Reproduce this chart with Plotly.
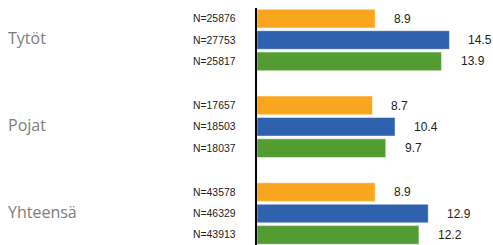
import plotly.graph_objects as go

categories = ["Tytöt", "Pojat", "Yhteensä"]
series_names = ["Sarja 1", "Sarja 2", "Sarja 3"]
values_orange = [8.9, 8.7, 8.9]
values_blue = [14.5, 10.4, 12.9]
values_green = [13.9, 9.7, 12.2]
n_orange = ["N=25876", "N=17657", "N=43578"]
n_blue = ["N=27753", "N=18503", "N=46329"]
n_green = ["N=25817", "N=18037", "N=43913"]

colors = ["#F9A61E", "#2F62AE", "#529C31"]
series_vals = [values_orange, values_blue, values_green]
series_n = [n_orange, n_blue, n_green]

fig = go.Figure()
for name, vals, col in zip(series_names, series_vals, colors):
    fig.add_trace(go.Bar(
        y=categories, x=vals, orientation="h", name=name,
        marker=dict(color=col, line=dict(color="rgba(255,255,255,0.6)", width=0.8)),
        showlegend=False, hoverinfo="skip",
    ))

offsets = [-0.245, 0.0, 0.245]
annotations = []
for si, (vals, ns) in enumerate(zip(series_vals, series_n)):
    for ci, cat in enumerate(categories):
        yv = ci + offsets[si]
        annotations.append(dict(
            x=vals[ci], y=yv, xref="x", yref="y", text=f"{vals[ci]:.1f}",
            showarrow=False, xanchor="left", xshift=17,
            font=dict(family="Liberation Sans, Arial", size=12, color="#222222"),
        ))
        annotations.append(dict(
            x=0, y=yv, xref="paper", yref="y", text=ns[ci],
            showarrow=False, xanchor="right", xshift=-19,
            font=dict(family="Liberation Sans, Arial", size=10.4, color="#222222"),
        ))
for ci, cat in enumerate(categories):
    annotations.append(dict(
        x=0, y=ci - 0.02, xref="paper", yref="y", text=cat,
        showarrow=False, xanchor="left", xshift=-251,
        font=dict(family="Open Sans", size=16, color="#7d7d7d"),
    ))

fig.update_layout(
    width=493, height=245,
    margin=dict(l=257, r=0, t=8, b=0),
    paper_bgcolor="white", plot_bgcolor="white",
    barmode="group", bargap=0.26, bargroupgap=0.13,
    xaxis=dict(range=[0, 17.78], showgrid=False, zeroline=False,
               showticklabels=False, showline=False, fixedrange=True),
    yaxis=dict(type="category", categoryorder="array", categoryarray=categories,
               range=[2.363, -0.369], showgrid=False, zeroline=False,
               showticklabels=False, showline=True, linecolor="black",
               linewidth=2, ticks="", fixedrange=True),
    annotations=annotations,
)

fig.write_html(
    "out.html",
    config={"displayModeBar": False, "staticPlot": True},
    post_script="document.body.style.margin='0';document.body.style.overflow='hidden';",
)
